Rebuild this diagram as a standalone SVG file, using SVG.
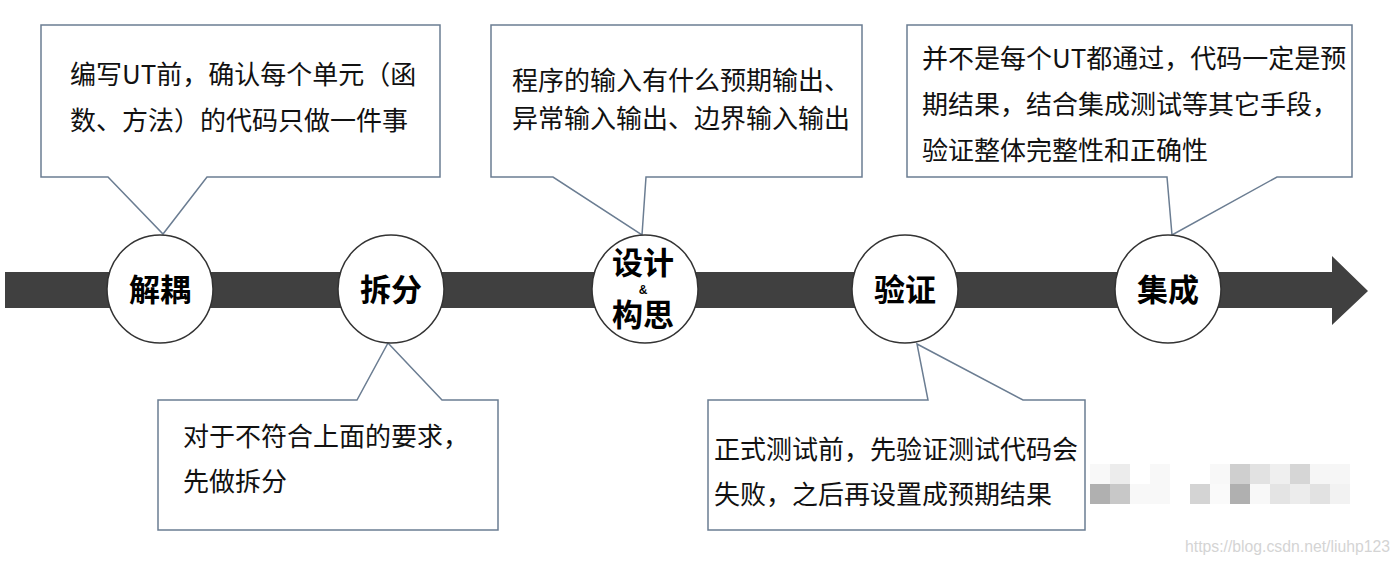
<svg xmlns="http://www.w3.org/2000/svg" width="1400" height="566" viewBox="0 0 1400 566">
<style>
.callout{fill:#ffffff;stroke:#6b7d92;stroke-width:1.5;stroke-linejoin:miter}
.ct{font-family:"Noto Sans CJK SC","Noto Sans",sans-serif;font-size:26px;fill:#111111}
.circ{fill:#ffffff;stroke:#333333;stroke-width:1.5}
.lbl{font-family:"Noto Sans CJK SC","Noto Sans",sans-serif;font-size:31px;font-weight:700;fill:#000000;text-anchor:middle}
.amp{font-family:"Liberation Sans",sans-serif;font-size:12px;font-weight:700}
.wm{font-family:"Liberation Sans",sans-serif;font-size:16px;fill:#d4d4d4}
</style>
<rect width="1400" height="566" fill="#ffffff"/>
<g id="connectors">
<path id="timeline-arrow" d="M5,272 H1332 V256 L1368,291 L1332,325 V308 H5 Z" fill="#404040"/>
</g>
<g id="callout-decouple">
<path class="callout" d="M41,25 H440 V177 H207 L163,234 L108,177 H41 Z"/>
<text class="ct" x="70" y="84">编写UT前，确认每个单元（函</text>
<text class="ct" x="70" y="130">数、方法）的代码只做一件事</text>
</g>
<g id="callout-design">
<path class="callout" d="M491,25 H862 V177 H646 L642,235 L553,177 H491 Z"/>
<text class="ct" x="512" y="90">程序的输入有什么预期输出、</text>
<text class="ct" x="512" y="128">异常输入输出、边界输入输出</text>
</g>
<g id="callout-integrate">
<path class="callout" d="M907,25 H1352 V177 H1277 L1172,235 L1167,177 H907 Z"/>
<text class="ct" x="922" y="68">并不是每个UT都通过，代码一定是预</text>
<text class="ct" x="922" y="114">期结果，结合集成测试等其它手段，</text>
<text class="ct" x="922" y="160">验证整体完整性和正确性</text>
</g>
<g id="callout-split">
<path class="callout" d="M158,400 H357 L388,343 L442,400 H498 V530 H158 Z"/>
<text class="ct" x="183" y="446">对于不符合上面的要求，</text>
<text class="ct" x="183" y="491">先做拆分</text>
</g>
<g id="callout-verify">
<path class="callout" d="M708,400 H928 L917,344 L1023,400 H1085 V530 H708 Z"/>
<text class="ct" x="714" y="459">正式测试前，先验证测试代码会</text>
<text class="ct" x="714" y="504">失败，之后再设置成预期结果</text>
</g>
<g id="node-decouple">
<ellipse class="circ" cx="160" cy="289" rx="53" ry="54"/>
<text class="lbl" x="160" y="301">解耦</text>
</g>
<g id="node-split">
<ellipse class="circ" cx="391" cy="289" rx="53" ry="54"/>
<text class="lbl" x="391" y="301">拆分</text>
</g>
<g id="node-design">
<ellipse class="circ" cx="645" cy="289" rx="53" ry="54"/>
<text class="lbl"><tspan x="643" y="274">设计</tspan><tspan class="amp" x="643" y="294">&amp;</tspan><tspan x="643" y="326">构思</tspan></text>
</g>
<g id="node-verify">
<ellipse class="circ" cx="905" cy="289" rx="53" ry="54"/>
<text class="lbl" x="905" y="301">验证</text>
</g>
<g id="node-integrate">
<ellipse class="circ" cx="1168" cy="289" rx="53" ry="54"/>
<text class="lbl" x="1168" y="301">集成</text>
</g>
<g id="mosaic">
<rect x="1090" y="464" width="20" height="20" fill="#f8f8f8"/>
<rect x="1110" y="464" width="20" height="20" fill="#ececec"/>
<rect x="1150" y="464" width="20" height="20" fill="#f8f8f8"/>
<rect x="1210" y="464" width="20" height="20" fill="#f8f8f8"/>
<rect x="1230" y="464" width="20" height="20" fill="#cfcfcf"/>
<rect x="1250" y="464" width="20" height="20" fill="#e2e2e2"/>
<rect x="1270" y="464" width="20" height="20" fill="#efefef"/>
<rect x="1290" y="464" width="20" height="20" fill="#d6d6d6"/>
<rect x="1310" y="464" width="40" height="20" fill="#f6f6f6"/>
<rect x="1090" y="484" width="20" height="20" fill="#b0b0b0"/>
<rect x="1110" y="484" width="20" height="20" fill="#c8c8c8"/>
<rect x="1130" y="484" width="40" height="20" fill="#f8f8f8"/>
<rect x="1190" y="484" width="20" height="20" fill="#d4d4d4"/>
<rect x="1210" y="484" width="20" height="20" fill="#fafafa"/>
<rect x="1230" y="484" width="20" height="20" fill="#b0b0b0"/>
<rect x="1250" y="484" width="20" height="20" fill="#f8f8f8"/>
<rect x="1270" y="484" width="20" height="20" fill="#e4e4e4"/>
<rect x="1290" y="484" width="20" height="20" fill="#ececec"/>
<rect x="1310" y="484" width="20" height="20" fill="#e2e2e2"/>
<rect x="1330" y="484" width="20" height="20" fill="#f2f2f2"/>
</g>
<text class="wm" x="1185" y="552" textLength="205" lengthAdjust="spacingAndGlyphs">https://blog.csdn.net/liuhp123</text>
</svg>
